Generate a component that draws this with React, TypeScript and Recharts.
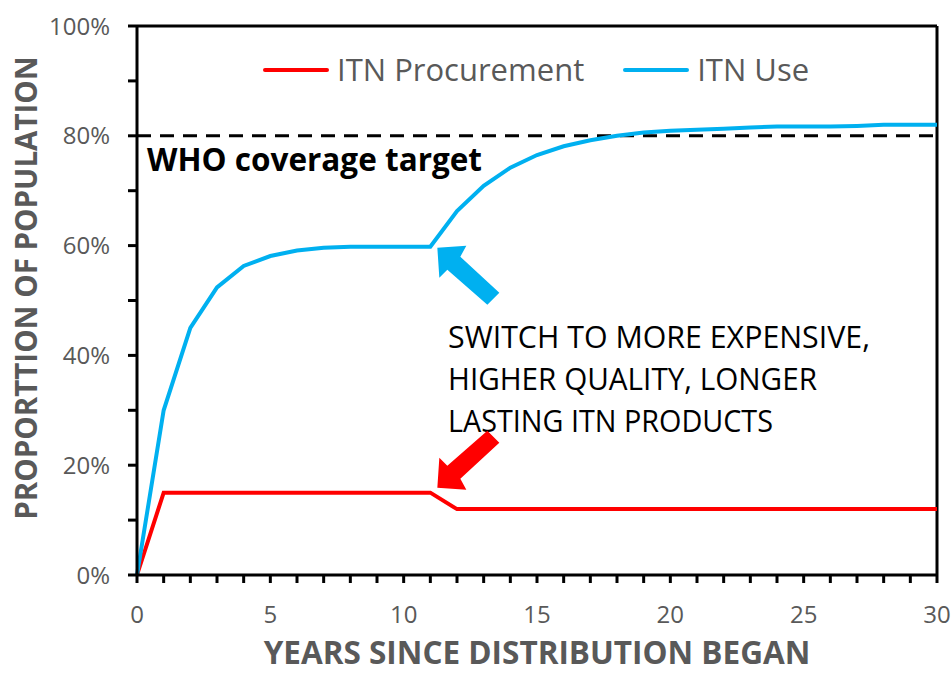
import React from "react";
import {
  LineChart,
  Line,
  XAxis,
  YAxis,
  Legend,
  ReferenceLine,
  ReferenceDot,
  Customized,
} from "recharts";

const years = [0, 1, 2, 3, 4, 5, 6, 7, 8, 9, 10, 11, 12, 13, 14, 15, 16, 17, 18, 19, 20, 21, 22, 23, 24, 25, 26, 27, 28, 29, 30];
const procurement = [0, 15, 15, 15, 15, 15, 15, 15, 15, 15, 15, 15, 12, 12, 12, 12, 12, 12, 12, 12, 12, 12, 12, 12, 12, 12, 12, 12, 12, 12, 12];
const itnUse = [0, 30, 45, 52.4, 56.3, 58.1, 59.1, 59.6, 59.8, 59.8, 59.8, 59.8, 66.3, 70.9, 74.2, 76.5, 78.1, 79.2, 80, 80.6, 80.9, 81.1, 81.3, 81.5, 81.7, 81.7, 81.7, 81.8, 82, 82, 82];
const xTicks = years;
const yTicks = [0, 10, 20, 30, 40, 50, 60, 70, 80, 90, 100];
const whoTarget = 80;
const switchYear = 11;
const noteLines = ["SWITCH TO MORE EXPENSIVE,", "HIGHER QUALITY, LONGER", "LASTING ITN PRODUCTS"];
const noteWidths = [422, 369, 325];

const data = years.map((y, i) => ({ year: y, proc: procurement[i], use: itnUse[i] }));

const FONT = "'Open Sans', sans-serif";
const GRAY = "#595959";
const BLUE = "#00B0F0";
const RED = "#FF0000";

const fmtX = (v: number) => (v % 5 === 0 ? String(v) : "");
const fmtY = (v: number) => (v % 20 === 0 ? `${v}%` : "");

const renderLegend = (props: any) => {
  const { payload } = props;
  return (
    <div style={{ display: "flex", alignItems: "center", fontFamily: FONT, fontSize: 31, color: GRAY, lineHeight: "31px" }}>
      {payload.map((e: any, i: number) => (
        <div key={i} style={{ display: "flex", alignItems: "center", marginRight: i === 0 ? 39 : 0 }}>
          <svg width={66} height={8} style={{ display: "block" }}>
            <line x1={2} x2={64} y1={4} y2={4} stroke={e.color} strokeWidth={4} strokeLinecap="round" />
          </svg>
          <span style={{ marginLeft: 8, whiteSpace: "nowrap" }}>{e.value}</span>
        </div>
      ))}
    </div>
  );
};

const blueArrow = (props: any) => {
  const tx = props.cx + 7;
  const ty = props.cy + 1;
  const pts = [
    [0, 0], [29, -2], [23, 9], [62, 45], [50, 57], [10, 22], [2, 30],
  ].map(([dx, dy]) => `${tx + dx},${ty + dy}`).join(" ");
  return <polygon points={pts} fill={BLUE} />;
};

const redArrow = (props: any) => {
  const tx = props.cx + 7;
  const ty = props.cy - 5;
  const pts = [
    [0, 0], [29, 2], [23, -9], [62, -45], [50, -57], [10, -22], [2, -30],
  ].map(([dx, dy]) => `${tx + dx},${ty + dy}`).join(" ");
  return <polygon points={pts} fill={RED} />;
};

const Note = () => (
  <g>
    {noteLines.map((t, i) => (
      <text
        key={i}
        x={448}
        y={348 + i * 42}
        fontFamily={FONT}
        fontSize={30.5}
        fill="#000"
        textLength={noteWidths[i]}
        lengthAdjust="spacingAndGlyphs"
      >
        {t}
      </text>
    ))}
  </g>
);

const WhoLabel = (props: any) => {
  const vb = props.viewBox || {};
  return (
    <text x={vb.x + 10} y={vb.y + 35} fontFamily={FONT} fontWeight="bold" fontSize={31.5} fill="#000">
      WHO coverage target
    </text>
  );
};

const YTitle = () => (
  <text
    x={37}
    y={288}
    transform="rotate(-90, 37, 288)"
    textAnchor="middle"
    fontFamily={FONT}
    fontWeight="bold"
    fontSize={29.5}
    fill={GRAY}
  >
    PROPORTTION OF POPULATION
  </text>
);

const XTitle = () => (
  <text x={537} y={664} textAnchor="middle" fontFamily={FONT} fontWeight="bold" fontSize={31.5} fill={GRAY}>
    YEARS SINCE DISTRIBUTION BEGAN
  </text>
);

export default function App() {
  return (
    <div style={{ position: "absolute", left: 0, top: 0, background: "#fff" }}>
      <LineChart width={952} height={675} data={data} margin={{ top: 26, right: 15, bottom: 40, left: 0 }}>
        <XAxis
          dataKey="year"
          type="number"
          domain={[0, 30]}
          ticks={xTicks}
          interval={0}
          tickSize={8}
          tickMargin={23}
          tickFormatter={fmtX}
          tickLine={{ stroke: "#000", strokeWidth: 3 }}
          tick={{ fontFamily: FONT, fontSize: 24, fill: GRAY }}
          axisLine={{ stroke: "#000", strokeWidth: 3 }}
          height={60}
        />
        <YAxis
          type="number"
          domain={[0, 100]}
          ticks={yTicks}
          interval={0}
          tickSize={9}
          tickMargin={18}
          tickFormatter={fmtY}
          tickLine={{ stroke: "#000", strokeWidth: 3 }}
          tick={{ fontFamily: FONT, fontSize: 24, fill: GRAY }}
          axisLine={{ stroke: "#000", strokeWidth: 3 }}
          width={137}
        />
        <ReferenceLine y={100} stroke="#000" strokeWidth={3} />
        <ReferenceLine x={30} stroke="#000" strokeWidth={3} />
        <ReferenceLine y={whoTarget} stroke="#000" strokeWidth={3} strokeDasharray="14 9" label={<WhoLabel />} />
        <Legend
          verticalAlign="middle"
          align="center"
          layout="horizontal"
          content={renderLegend}
          wrapperStyle={{ top: 54, left: 263, width: "auto", height: 31 }}
        />
        <Line
          name="ITN Procurement"
          dataKey="proc"
          stroke={RED}
          strokeWidth={4}
          dot={false}
          activeDot={false}
          isAnimationActive={false}
        />
        <Line
          name="ITN Use"
          dataKey="use"
          stroke={BLUE}
          strokeWidth={4}
          dot={false}
          activeDot={false}
          isAnimationActive={false}
        />
        <ReferenceDot x={switchYear} y={itnUse[switchYear]} shape={blueArrow} />
        <ReferenceDot x={switchYear} y={procurement[switchYear]} shape={redArrow} />
        <Customized component={Note} />
        <Customized component={YTitle} />
        <Customized component={XTitle} />
      </LineChart>
    </div>
  );
}
